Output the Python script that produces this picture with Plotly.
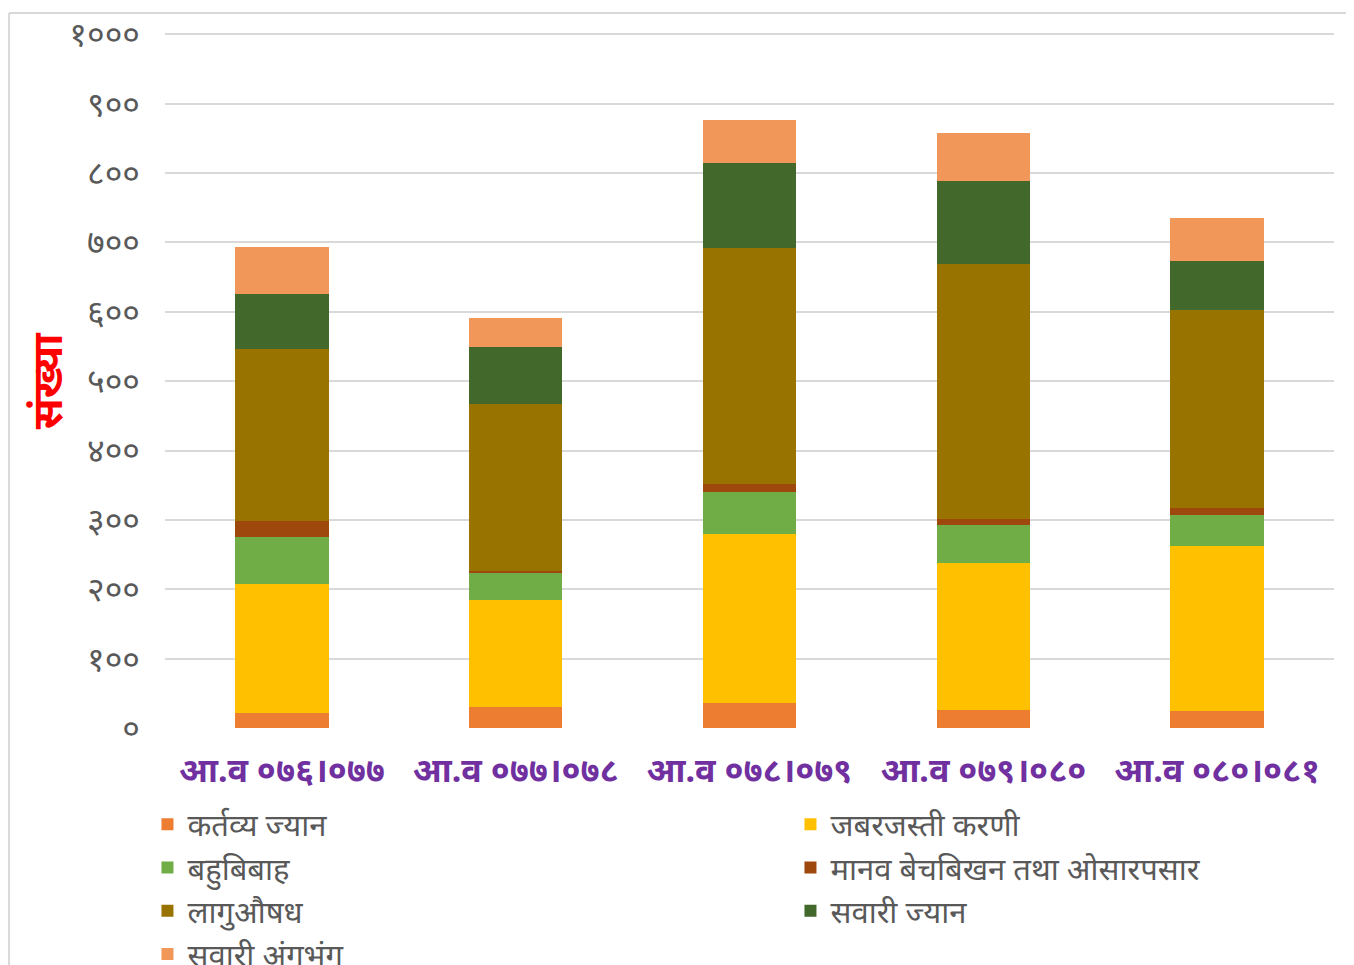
import plotly.graph_objects as go

years = ["आ.व ०७६।०७७", "आ.व ०७७।०७८", "आ.व ०७८।०७९", "आ.व ०७९।०८०", "आ.व ०८०।०८१"]

kartavya_jyan = [22, 31, 36, 26, 25]
jabarjasti_karani = [186, 153, 243, 212, 237]
bahubibah = [68, 40, 61, 54, 45]
manav_bechbikhan = [22, 3, 12, 9, 10]
laguaushadh = [249, 240, 340, 368, 285]
sawari_jyan = [79, 82, 123, 119, 72]
sawari_angabhang = [67, 42, 61, 70, 61]

tick_vals = [0, 100, 200, 300, 400, 500, 600, 700, 800, 900, 1000]
tick_text = ["०", "१००", "२००", "३००", "४००", "५००", "६००", "७००", "८००", "९००", "१०००"]

series = [
    ("कर्तव्य ज्यान", kartavya_jyan, "#ED7D31"),
    ("जबरजस्ती करणी", jabarjasti_karani, "#FFC000"),
    ("बहुबिबाह", bahubibah, "#70AD47"),
    ("मानव बेचबिखन तथा ओसारपसार", manav_bechbikhan, "#9E480E"),
    ("लागुऔषध", laguaushadh, "#997300"),
    ("सवारी ज्यान", sawari_jyan, "#43682B"),
    ("सवारी अंगभंग", sawari_angabhang, "#F1975A"),
]

fig = go.Figure()
for name, vals, col in series:
    fig.add_trace(go.Bar(x=years, y=vals, name=name, marker_color=col,
                         marker_line_width=0))

# page has an 8px body margin, so margins are reduced by 8 on left/top
fig.update_layout(
    width=1354, height=965,
    barmode="stack", bargap=0.6,
    paper_bgcolor="white", plot_bgcolor="white",
    margin=dict(l=157, r=28, t=25, b=245, autoexpand=False),
    font=dict(family="Noto Sans, sans-serif", color="#595959"),
    showlegend=True,
    legend=dict(orientation="h", x=-0.015, xanchor="left", y=-0.1, yanchor="top",
                entrywidth=598, entrywidthmode="pixels", traceorder="normal",
                font=dict(size=31, color="#595959"), tracegroupgap=0),
)
fig.update_xaxes(showgrid=False, showline=False, ticks="",
                 tickfont=dict(size=34, color="#7030A0", weight="bold"),
                 ticklabelstandoff=19)
fig.update_yaxes(range=[0, 1002], tickvals=tick_vals, ticktext=tick_text,
                 showgrid=True, gridcolor="#D9D9D9", gridwidth=1.5,
                 zeroline=False, showline=False, ticks="",
                 tickfont=dict(size=34, color="#595959"), ticklabelstandoff=24)

fig.add_annotation(text="संख्या", textangle=-90, xref="paper", yref="paper",
                   x=-0.128, y=0.5, showarrow=False,
                   font=dict(size=42, color="#FF0000", weight="bold"))

# chart area border (left and top edges visible)
fig.add_shape(type="line", xref="paper", yref="paper", x0=-0.1334, x1=-0.1334,
              y0=1.0288, y1=-0.45, line=dict(color="#D9D9D9", width=2), layer="below")
fig.add_shape(type="line", xref="paper", yref="paper", x0=-0.1334, x1=1.03,
              y0=1.0288, y1=1.0288, line=dict(color="#D9D9D9", width=2), layer="below")

fig.write_html("out.html")
